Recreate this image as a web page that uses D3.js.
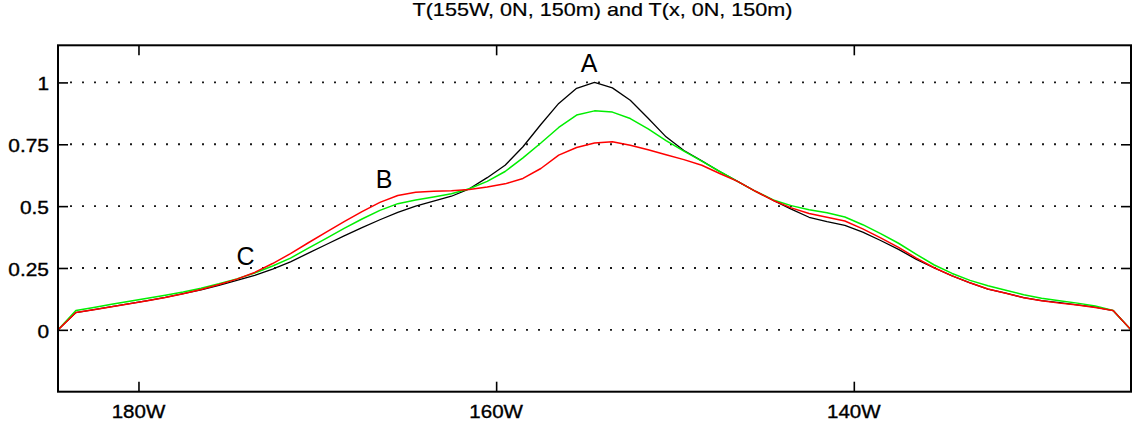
<!DOCTYPE html>
<html>
<head>
<meta charset="utf-8">
<script src="https://cdn.jsdelivr.net/npm/d3@7"></script>
<style>
  html, body { margin: 0; padding: 0; background: #fff; }
  svg { display: block; }
  text { font-family: "Liberation Sans", Arial, Helvetica, sans-serif; fill: #000; }
</style>
</head>
<body>
<div id="chart"></div>
<script>
// Longitudes (degrees east), 1-degree grid from 175.5E to 235.5E
const lons = d3.range(0, 61).map(i => 175.5 + i);

// T(155W, 0N, 150m) correlation with T(x, 0N, 150m) — black
const seriesBlack = [0, 0.070, 0.082, 0.094, 0.106, 0.118, 0.131, 0.146, 0.162, 0.180,
  0.200, 0.220, 0.245, 0.275, 0.310, 0.345, 0.380, 0.413, 0.445, 0.475,
  0.500, 0.520, 0.540, 0.570, 0.615, 0.665, 0.740, 0.830, 0.915, 0.976,
  1.000, 0.978, 0.928, 0.855, 0.780, 0.725, 0.683, 0.640, 0.600, 0.560,
  0.523, 0.488, 0.455, 0.437, 0.422, 0.395, 0.361, 0.325, 0.285, 0.250,
  0.218, 0.190, 0.165, 0.148, 0.130, 0.118, 0.110, 0.101, 0.092, 0.078, 0];
// green
const seriesGreen = [0, 0.078, 0.090, 0.103, 0.116, 0.128, 0.140, 0.153, 0.168, 0.186,
  0.206, 0.230, 0.258, 0.290, 0.330, 0.370, 0.410, 0.448, 0.483, 0.510,
  0.525, 0.537, 0.550, 0.570, 0.600, 0.640, 0.695, 0.755, 0.818, 0.868,
  0.885, 0.880, 0.854, 0.812, 0.765, 0.722, 0.682, 0.640, 0.600, 0.560,
  0.525, 0.502, 0.485, 0.473, 0.456, 0.425, 0.389, 0.350, 0.305, 0.262,
  0.228, 0.200, 0.178, 0.160, 0.142, 0.128, 0.118, 0.108, 0.096, 0.078, 0];
// red
const seriesRed = [0, 0.070, 0.081, 0.093, 0.105, 0.118, 0.131, 0.146, 0.163, 0.183,
  0.205, 0.232, 0.268, 0.308, 0.352, 0.395, 0.437, 0.478, 0.515, 0.543,
  0.556, 0.560, 0.562, 0.567, 0.577, 0.590, 0.612, 0.652, 0.706, 0.737,
  0.755, 0.760, 0.746, 0.728, 0.708, 0.688, 0.665, 0.632, 0.600, 0.560,
  0.523, 0.493, 0.470, 0.455, 0.440, 0.408, 0.372, 0.333, 0.290, 0.251,
  0.218, 0.190, 0.165, 0.148, 0.130, 0.118, 0.108, 0.100, 0.090, 0.078, 0];

const xTickValues = [180, 200, 220];
const xTickLabels = ["180W", "160W", "140W"];
const yTickValues = [0, 0.25, 0.5, 0.75, 1];
const yTickLabels = ["0", "0.25", "0.5", "0.75", "1"];

const annotLabels = ["A", "B", "C"];
const annotLon = [205.2, 193.73, 185.99];
const annotVal = [1.042, 0.572, 0.264];

const titleText = "T(155W, 0N, 150m) and T(x, 0N, 150m)";

const W = 1139, H = 429;
const margin = { left: 58, right: 8, top: 45.3, bottom: 37.3 };
const iw = W - margin.left - margin.right;
const ih = H - margin.top - margin.bottom;

const svg = d3.select("#chart").append("svg").attr("width", W).attr("height", H);

const x = d3.scaleLinear().domain([175.5, 235.5]).range([margin.left, margin.left + iw]);
const y = d3.scaleLinear().domain([-0.25, 1.15]).range([margin.top + ih, margin.top]);

// dotted horizontal grid
svg.append("g").selectAll("line").data(yTickValues).join("line")
  .attr("x1", x(175.5) + 10).attr("x2", x(235.5) - 10)
  .attr("y1", d => y(d)).attr("y2", d => y(d))
  .attr("stroke", "#1a1a1a").attr("stroke-width", 1.8)
  .attr("stroke-dasharray", "2 10").attr("stroke-dashoffset", -2);

// clip
svg.append("clipPath").attr("id", "clip").append("rect")
  .attr("x", margin.left).attr("y", margin.top).attr("width", iw).attr("height", ih);

const line = d3.line().x((d, i) => x(lons[i])).y(d => y(d));
const plotG = svg.append("g").attr("clip-path", "url(#clip)");
[[seriesBlack, "#000000", 1.3], [seriesGreen, "#00ee00", 1.5], [seriesRed, "#ff0000", 1.5]].forEach(([s, c, w]) => {
  plotG.append("path").datum(s).attr("d", line)
    .attr("fill", "none").attr("stroke", c).attr("stroke-width", w)
    .attr("stroke-linejoin", "round");
});

// axes with inward ticks (left, right, top, bottom)
const fmtX = (d) => xTickLabels[xTickValues.indexOf(d)];
const fmtY = (d) => yTickLabels[yTickValues.indexOf(d)];

const axB = svg.append("g").attr("transform", `translate(0,${margin.top + ih})`)
  .call(d3.axisBottom(x).tickValues(xTickValues).tickSizeInner(-10).tickSizeOuter(0).tickFormat(""));
const axT = svg.append("g").attr("transform", `translate(0,${margin.top})`)
  .call(d3.axisTop(x).tickValues(xTickValues).tickSizeInner(-10).tickSizeOuter(0).tickFormat(""));
const axL = svg.append("g").attr("transform", `translate(${margin.left},0)`)
  .call(d3.axisLeft(y).tickValues(yTickValues).tickSizeInner(-10).tickSizeOuter(0).tickFormat(""));
const axR = svg.append("g").attr("transform", `translate(${margin.left + iw},0)`)
  .call(d3.axisRight(y).tickValues(yTickValues).tickSizeInner(-10).tickSizeOuter(0).tickFormat(""));
[axB, axT, axL, axR].forEach(g => {
  g.select(".domain").remove();
  g.selectAll(".tick line").attr("stroke", "#000").attr("stroke-width", 1.6);
});

// frame
svg.append("rect").attr("x", margin.left).attr("y", margin.top)
  .attr("width", iw).attr("height", ih)
  .attr("fill", "none").attr("stroke", "#000").attr("stroke-width", 2);

// tick labels
svg.append("g").selectAll("text").data(xTickValues).join("text")
  .attr("transform", d => `translate(${x(d)},${margin.top + ih + 26.5}) scale(1.11,1)`)
  .attr("text-anchor", "middle").attr("font-size", "18.5px")
  .attr("stroke", "#000").attr("stroke-width", 0.35)
  .text(fmtX);
svg.append("g").selectAll("text").data(yTickValues).join("text")
  .attr("transform", d => `translate(${margin.left - 9},${y(d) + 7.8}) scale(1.13,1)`)
  .attr("text-anchor", "end").attr("font-size", "18.5px")
  .attr("stroke", "#000").attr("stroke-width", 0.35)
  .text(fmtY);

// title
svg.append("text")
  .attr("transform", `translate(602.5,15.7) scale(1.2,1)`)
  .attr("text-anchor", "middle").attr("font-size", "18px")
  .attr("stroke", "#000").attr("stroke-width", 0.2)
  .text(titleText);

// annotations
svg.append("g").selectAll("text").data(annotLabels).join("text")
  .attr("x", (d, i) => x(annotLon[i]))
  .attr("y", (d, i) => y(annotVal[i]))
  .attr("text-anchor", "middle").attr("font-size", "25px")
  .text(d => d);
</script>
</body>
</html>
